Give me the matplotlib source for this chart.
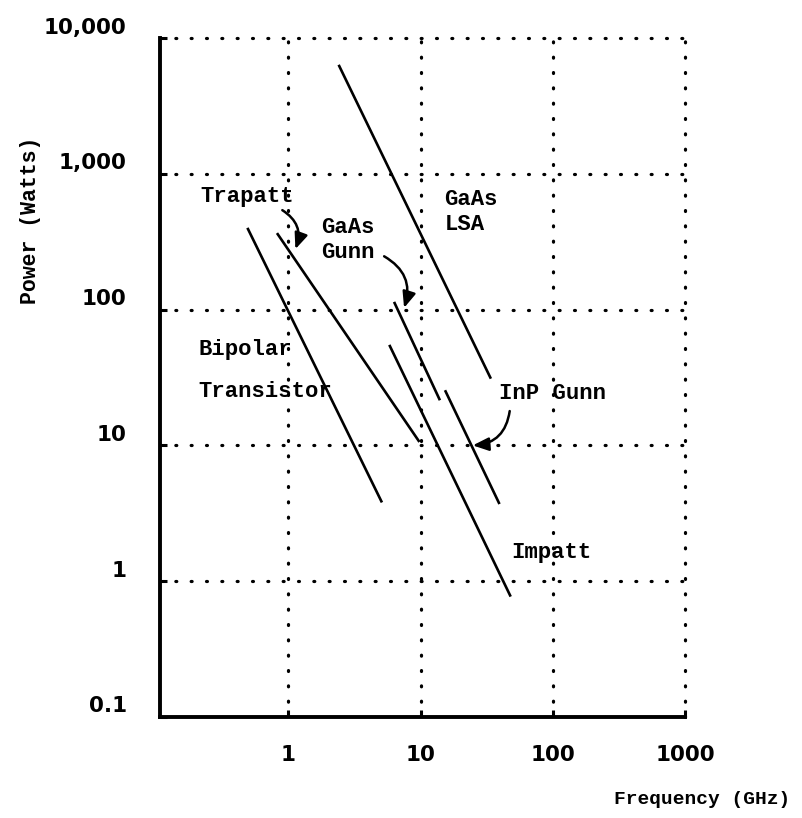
import matplotlib
matplotlib.use('Agg')
import matplotlib.pyplot as plt
from matplotlib.ticker import NullLocator
from matplotlib.transforms import ScaledTranslation

# ---- data (frequency in GHz, power in W) ----
bipolar_freq = [0.49, 5.1]
bipolar_power = [400, 3.8]
trapatt_freq = [0.82, 9.8]
trapatt_power = [366, 10.6]
gaas_gunn_freq = [6.3, 14.0]
gaas_gunn_power = [114, 21.5]
gaas_lsa_freq = [2.4, 34.0]
gaas_lsa_power = [6350, 31]
inp_gunn_freq = [15.3, 39.5]
inp_gunn_power = [25.5, 3.7]
impatt_freq = [5.8, 48.0]
impatt_power = [55, 0.77]

x_ticks = [1, 10, 100, 1000]
x_tick_labels = ['1', '10', '100', '1000']
y_ticks = [0.1, 1, 10, 100, 1000, 10000]
y_tick_labels = ['0.1', '1', '10', '100', '1,000', '10,000']

MONO = 'Liberation Mono'
SANS = 'DejaVu Sans'

fig = plt.figure(figsize=(8.03, 8.18), dpi=100)
ax = fig.add_axes([0.1993, 0.1235, 0.6538, 0.830])
ax.set_xscale('log')
ax.set_yscale('log')
ax.set_xlim(0.107, 1000)
ax.set_ylim(0.1, 10000)

dots = (0, (0.3, 4.5))

# grid
ax.set_xticks(x_ticks)
ax.set_xticklabels(x_tick_labels, fontfamily=SANS, fontweight='bold', fontsize=15.5)
ax.set_yticks(y_ticks)
ax.set_yticklabels(y_tick_labels, fontfamily=SANS, fontweight='bold', fontsize=15.5)
ax.xaxis.set_minor_locator(NullLocator())
ax.yaxis.set_minor_locator(NullLocator())
ax.grid(True, which='major', color='black', linestyle=dots, linewidth=2.3,
        dash_capstyle='round')
for t, v in zip(ax.xaxis.get_major_ticks(), x_ticks):
    if v == x_ticks[-1]:
        t.gridline.set_visible(False)
for t, v in zip(ax.yaxis.get_major_ticks(), y_ticks):
    if v == y_ticks[-1]:
        t.gridline.set_visible(False)

for s in ['top', 'right']:
    ax.spines[s].set_linestyle(dots)
    ax.spines[s].set_linewidth(2.3)
    ax.spines[s].set_capstyle('round')
for s in ['left', 'bottom']:
    ax.spines[s].set_linewidth(2.8)

ax.tick_params(axis='both', which='major', direction='in', length=5, width=2.2,
               top=False, right=False)
ax.tick_params(axis='x', pad=20)
ax.tick_params(axis='y', pad=24)
for lab in ax.get_yticklabels():
    lab.set_transform(lab.get_transform() + ScaledTranslation(0, 9 / 72, fig.dpi_scale_trans))

# device lines
line_kw = dict(color='black', linewidth=1.9, solid_capstyle='butt')
ax.plot(bipolar_freq, bipolar_power, **line_kw)
ax.plot(trapatt_freq, trapatt_power, **line_kw)
ax.plot(gaas_gunn_freq, gaas_gunn_power, **line_kw)
ax.plot(gaas_lsa_freq, gaas_lsa_power, **line_kw)
ax.plot(inp_gunn_freq, inp_gunn_power, **line_kw)
ax.plot(impatt_freq, impatt_power, **line_kw)

# labels
tkw = dict(fontfamily=MONO, fontweight='bold', fontsize=16, color='black')
ax.text(0.217, 682, 'Trapatt', ha='left', va='center', **tkw)
ax.text(1.78, 327, 'GaAs\nGunn', ha='left', va='center', linespacing=1.25, **tkw)
ax.text(15.1, 525, 'GaAs\nLSA', ha='left', va='center', linespacing=1.25, **tkw)
ax.text(0.21, 50.6, 'Bipolar', ha='left', va='center', **tkw)
ax.text(0.21, 24.8, 'Transistor', ha='left', va='center', **tkw)
ax.text(39, 24.1, 'InP Gunn', ha='left', va='center', **tkw)
ax.text(48.9, 1.63, 'Impatt', ha='left', va='center', **tkw)

akw = dict(arrowstyle='-|>,head_length=0.6,head_width=0.25', color='black', lw=1.8,
           mutation_scale=16, shrinkA=0, shrinkB=0)
ax.annotate('', xy=(1.13, 279), xytext=(0.9, 540),
            arrowprops=dict(connectionstyle='arc3,rad=-0.4', **akw))
ax.annotate('', xy=(7.5, 103), xytext=(5.3, 247),
            arrowprops=dict(connectionstyle='arc3,rad=-0.4', **akw))
ax.annotate('', xy=(24.8, 10), xytext=(47.2, 17.9),
            arrowprops=dict(connectionstyle='arc3,rad=-0.4', **akw))

# axis titles
ax.set_xlabel('Frequency (GHz)', fontfamily=MONO, fontweight='bold', fontsize=14,
              ha='right', va='center')
ax.xaxis.set_label_coords(1.2, -0.122)
ax.set_ylabel('Power (Watts)', fontfamily=MONO, fontweight='bold', fontsize=15.5,
              va='center', ha='center')
ax.yaxis.set_label_coords(-0.2476, 0.732)

fig.savefig('out.png', dpi=100)
